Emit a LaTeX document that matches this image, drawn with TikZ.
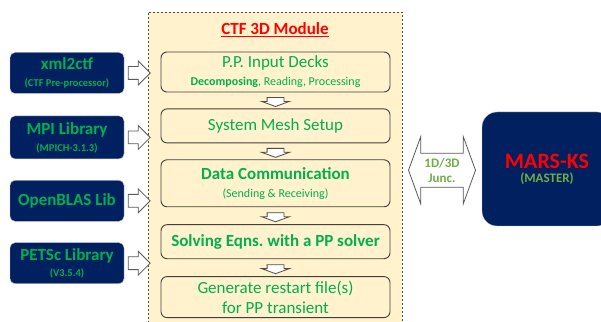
\documentclass[tikz,border=0pt]{standalone}
\usepackage{fontspec}
\setmainfont{Carlito}
\usepackage{xcolor}
\usetikzlibrary{shapes.arrows, positioning, calc}

\definecolor{navy}{HTML}{002060}
\definecolor{cream}{HTML}{FFF2CC}
\definecolor{txtgreen}{HTML}{00B050}
\definecolor{lightgreen}{HTML}{70AD47}
\definecolor{arrowgray}{HTML}{595959}

\newcommand{\bigtxt}{\fontsize{17}{20}\selectfont}
\newcommand{\midtxt}{\fontsize{12}{14}\selectfont}
\newcommand{\smalltxt}{\fontsize{10.5}{12}\selectfont}

\tikzset{
  libbox/.style={draw=gray!50, fill=navy, rounded corners=5pt, minimum width=114pt,
    minimum height=41pt, text=txtgreen, align=center, font=\bfseries\bigtxt, inner sep=1pt},
  stepbox/.style={draw=black!75, line width=0.9pt, fill=cream, rounded corners=6pt,
    minimum width=229pt, align=center, text=txtgreen, font=\bigtxt, inner sep=1pt},
  rightarr/.style={single arrow, draw=arrowgray, line width=0.8pt, fill=white,
    minimum height=22pt, single arrow head extend=5.5pt, single arrow tip angle=90,
    inner xsep=0pt, inner ysep=6pt},
  downarr/.style={single arrow, shape border rotate=270, draw=black!70, line width=0.8pt,
    fill=white, minimum height=9pt, single arrow head extend=5.5pt,
    single arrow tip angle=140, inner xsep=8pt, inner ysep=0pt},
}

\begin{document}
\begin{tikzpicture}[x=1pt, y=1pt]
\clip (0,0) rectangle (601,321);
\useasboundingbox (0,0) rectangle (601,321);

% CTF module
\node[draw=black!70, dash pattern=on 2pt off 2pt, fill=cream, minimum width=254pt,
  minimum height=319pt] (ctf) at (275,149.5) {};
\node[text=red, font=\bfseries\bigtxt] (title) at (275,291) {\underline{CTF 3D Module}};

\node[stepbox, minimum height=40pt] (decks) at (275.5,249)
  {P.P. Input Decks\\[-2pt]{\midtxt\textbf{Decomposing}, Reading, Processing}};
\node[stepbox, minimum height=34pt, below=16pt of decks] (mesh) {System Mesh Setup};
\node[stepbox, minimum height=47pt, below=16pt of mesh] (comm)
  {\textbf{Data Communication}\\[-2pt]{\midtxt (Sending \& Receiving)}};
\node[stepbox, minimum height=34pt, below=17pt of comm, font=\bfseries\bigtxt] (solve)
  {Solving Eqns.\ with a PP solver};
\node[stepbox, minimum height=41pt, below=17pt of solve] (restart)
  {Generate restart file(s)\\for PP transient};

\node[downarr] at ($(decks.south)!0.5!(mesh.north)$) {};
\node[downarr] at ($(mesh.south)!0.5!(comm.north)$) {};
\node[downarr] at ($(comm.south)!0.5!(solve.north)$) {};
\node[downarr] at ($(solve.south)!0.5!(restart.north)$) {};

% libraries
\node[libbox] (xml) at (67,248) {xml2ctf\\[-3pt]{\smalltxt (CTF Pre-processor)}};
\node[libbox, minimum height=43pt, below=22pt of xml] (mpi)
  {MPI Library\\[-3pt]{\smalltxt (MPICH-3.1.3)}};
\node[libbox, below=21pt of mpi] (blas) {OpenBLAS Lib};
\node[libbox, below=21pt of blas] (petsc) {PETSc Library\\[-4pt]{\smalltxt (V3.5.4)}};

\foreach \lib in {xml, mpi, blas, petsc}
  \node[rightarr] at ($(\lib.east)!0.5!(\lib.east -| ctf.west)$) {};

% master code
\node[fill=navy, draw=gray!50, rounded corners=15pt, minimum width=130pt, minimum height=114pt,
  align=center] (mars) at (547,152)
  {{\fontsize{22}{24}\selectfont\bfseries\color{red} MARS-KS}\\[2pt]
   {\fontsize{13}{15}\selectfont\bfseries\color{lightgreen} (MASTER)}};

\node[double arrow, draw=arrowgray, line width=0.8pt, fill=white, minimum height=67pt,
  minimum width=67pt, double arrow head extend=14pt, double arrow tip angle=140,
  inner xsep=0pt, inner ysep=2pt, align=center, text=lightgreen,
  font=\bfseries\fontsize{13}{15}\selectfont] (junc)
  at ($(ctf.east)!0.5!(mars.west)$) {1D/3D\\Junc.};
\end{tikzpicture}
\end{document}
